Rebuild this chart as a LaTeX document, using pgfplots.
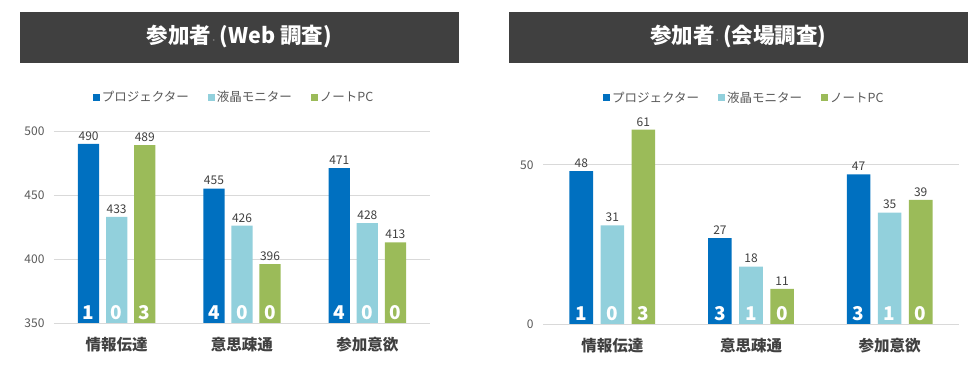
\documentclass[border=0pt]{standalone}
\usepackage{pgfplots}
\pgfplotsset{compat=1.18}
\usepackage{pgfplotstable}
\usepackage{fontspec}
\setmainfont{Noto Sans CJK JP}
\definecolor{cBlue}{RGB}{0,112,192}
\definecolor{cLight}{RGB}{146,208,220}
\definecolor{cGreen}{RGB}{155,187,89}
\definecolor{cTitle}{RGB}{64,64,64}
\definecolor{cText}{RGB}{89,89,89}
\definecolor{cGrid}{RGB}{217,217,217}

\pgfplotstableread{
x a b c da db dc
0 490 433 489 1 0 3
1 455 426 396 4 0 0
2 471 428 413 4 0 0
}\web
\pgfplotstableread{
x a b c da db dc
0 48 31 61 1 0 3
1 27 18 11 3 1 0
2 47 35 39 3 1 0
}\venue

\pgfplotsset{
  mybar/.style={
    ybar, scale only axis, xmin=-0.5, xmax=2.5, xtick={0,1,2},
    enlargelimits=false,
    xticklabels={情報伝達,意思疎通,参加意欲},
    axis line style={draw=none}, major tick length=0pt,
    ymajorgrids, grid style={cGrid, line width=0.9pt},
    clip=false,
    bar width=0.17,
    /pgf/number format/assume math mode=true,
    yticklabel style={font=\fontsize{12}{14}\selectfont, text=cText, xshift=-6pt},
    xticklabel style={font=\fontsize{15.5}{18}\selectfont\bfseries, text=cTitle, yshift=-10.5pt},
    legend style={draw=none, fill=none, legend columns=3, font=\fontsize{12.5}{14}\selectfont, text=cText,
      /tikz/every even column/.append style={column sep=17pt}, anchor=center},
    legend image code/.code={\fill[##1, draw=none] (0pt,-3.5pt) rectangle (7pt,3.5pt);},
  },
  vals/.style={draw=none, nodes near coords, point meta=explicit,
    every node near coord/.append style={font=\fontsize{12}{14}\selectfont, text=cTitle}},
  digs/.style={draw=none, fill=none, forget plot, point meta=explicit symbolic, nodes near coords,
    every node near coord/.append style={font=\fontsize{19}{20}\selectfont\bfseries, text=white, anchor=south, inner sep=0pt, yshift=3pt}},
}

\begin{document}
\begin{tikzpicture}
\useasboundingbox (0pt,0pt) rectangle (978pt,372pt);
% title boxes
\fill[cTitle] (20pt,309pt) rectangle (459pt,360pt);
\node[text=white, font=\fontsize{21.5}{24}\selectfont\bfseries] at (239.5pt,335pt) {参加者{\fontsize{8}{8}\selectfont\color{gray}·}\,(Web 調査)};
\fill[cTitle] (509pt,309pt) rectangle (968pt,360pt);
\node[text=white, font=\fontsize{21.5}{24}\selectfont\bfseries] at (738.5pt,335pt) {参加者{\fontsize{8}{8}\selectfont\color{gray}·}\,(会場調査)};

% left chart
\begin{axis}[mybar, at={(54pt,49pt)}, anchor=south west, width=376pt, height=192pt,
  ymin=0, ymax=150, ytick={0,50,100,150}, yticklabels={350,400,450,500},
  legend style={at={(0.479,1.177)}}]
\addplot[vals, fill=cBlue, bar shift=-0.224] table[x=x, y expr=\thisrow{a}-350, meta=a]{\web};
\addlegendentry{プロジェクター}
\addplot[vals, fill=cLight, bar shift=0] table[x=x, y expr=\thisrow{b}-350, meta=b]{\web};
\addlegendentry{液晶モニター}
\addplot[vals, fill=cGreen, bar shift=0.224] table[x=x, y expr=\thisrow{c}-350, meta=c]{\web};
\addlegendentry{ノートPC}
\addplot[digs, bar shift=-0.224] table[x=x, y expr=0, meta=da]{\web};
\addplot[digs, bar shift=0] table[x=x, y expr=0, meta=db]{\web};
\addplot[digs, bar shift=0.224] table[x=x, y expr=0, meta=dc]{\web};
\end{axis}

% right chart
\begin{axis}[mybar, at={(543pt,48pt)}, anchor=south west, width=416pt, height=207pt,
  ymin=0, ymax=65, ytick={0,50},
  legend style={at={(0.484,1.092)}}]
\addplot[vals, fill=cBlue, bar shift=-0.224] table[x=x, y=a, meta=a]{\venue};
\addlegendentry{プロジェクター}
\addplot[vals, fill=cLight, bar shift=0] table[x=x, y=b, meta=b]{\venue};
\addlegendentry{液晶モニター}
\addplot[vals, fill=cGreen, bar shift=0.224] table[x=x, y=c, meta=c]{\venue};
\addlegendentry{ノートPC}
\addplot[digs, bar shift=-0.224] table[x=x, y expr=0, meta=da]{\venue};
\addplot[digs, bar shift=0] table[x=x, y expr=0, meta=db]{\venue};
\addplot[digs, bar shift=0.224] table[x=x, y expr=0, meta=dc]{\venue};
\end{axis}
\end{tikzpicture}
\end{document}
